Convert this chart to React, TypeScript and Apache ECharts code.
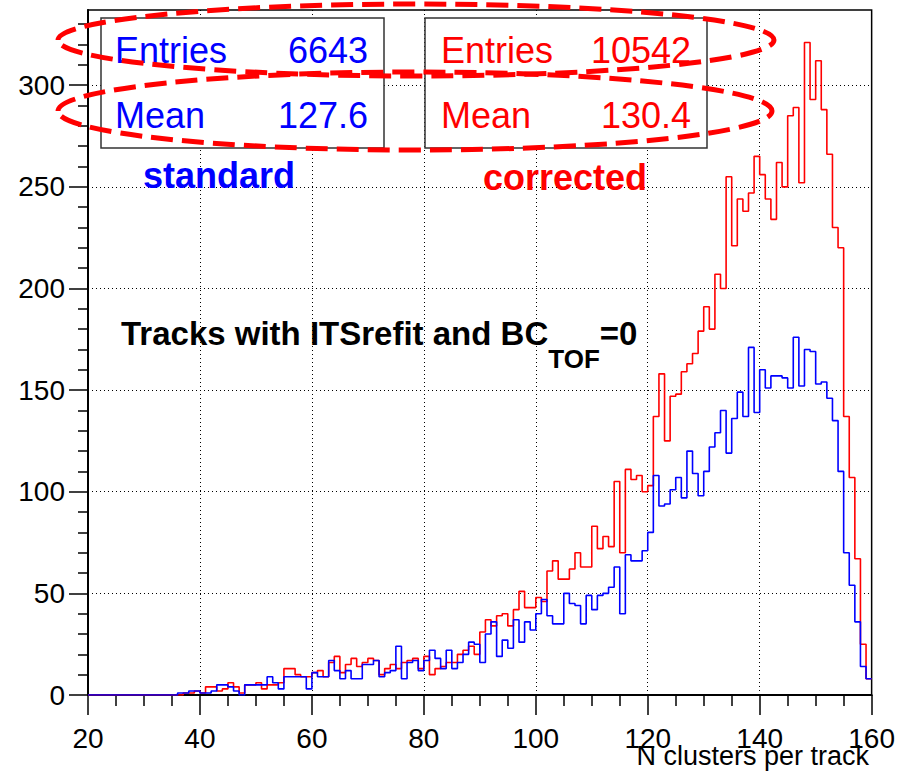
import React, { useEffect, useRef } from "react";
import * as echarts from "echarts";

// Histogram binning: 1 unit wide bins from 20 to 160
const binStart = 20;
const binWidth = 1;

// "standard" histogram (blue), bins 20..159
const standardCounts = [
  0, 0, 0, 0, 0, 0, 0, 0, 0, 0,
  0, 0, 0, 0, 0, 0, 1, 1, 2, 2,
  1, 1, 2, 5, 5, 4, 2, 0, 5, 5,
  5, 5, 9, 6, 3, 9, 9, 9, 9, 3,
  11, 9, 9, 17, 12, 8, 12, 8, 8, 15,
  15, 17, 9, 11, 12, 24, 8, 16, 17, 12,
  17, 22, 18, 13, 22, 13, 16, 20, 26, 25,
  16, 30, 36, 19, 27, 23, 37, 26, 36, 32,
  40, 47, 39, 35, 35, 50, 45, 44, 35, 49,
  42, 49, 50, 53, 63, 40, 69, 66, 66, 71,
  80, 108, 93, 94, 101, 107, 97, 120, 109, 98,
  110, 122, 129, 140, 119, 136, 149, 137, 171, 139,
  160, 151, 157, 157, 156, 151, 176, 152, 170, 169,
  153, 154, 146, 135, 110, 70, 54, 36, 14, 8,
];

// "corrected" histogram (red), bins 20..159
const correctedCounts = [
  0, 0, 0, 0, 0, 0, 0, 0, 0, 0,
  0, 0, 0, 0, 0, 0, 0, 1, 1, 2,
  1, 4, 4, 2, 3, 6, 4, 1, 5, 5,
  6, 3, 5, 5, 6, 13, 13, 10, 9, 9,
  11, 12, 9, 16, 19, 11, 15, 18, 14, 16,
  18, 17, 10, 13, 15, 13, 16, 17, 18, 13,
  19, 10, 13, 14, 16, 16, 20, 22, 24, 20,
  31, 37, 34, 39, 40, 34, 42, 51, 43, 43,
  48, 46, 61, 66, 57, 57, 62, 70, 63, 63,
  83, 72, 78, 73, 105, 70, 111, 106, 108, 100,
  103, 137, 158, 125, 147, 148, 159, 163, 168, 179,
  191, 180, 207, 200, 255, 221, 244, 238, 247, 265,
  256, 244, 234, 262, 250, 285, 289, 252, 321, 293,
  312, 288, 266, 230, 220, 137, 107, 67, 25, 8,
];

const yTicks = [0, 50, 100, 150, 200, 250, 300];
const xTicks = [20, 40, 60, 80, 100, 120, 140, 160];

const standardStats = { entries: "6643", mean: "127.6" };
const correctedStats = { entries: "10542", mean: "130.4" };

const FONT = "'Liberation Sans', Arial, Helvetica, sans-serif";
const BLUE = "#0000ff";
const RED = "#ff0000";

function toSteps(counts: number[]): number[][] {
  const pts: number[][] = counts.map((v, i) => [binStart + i * binWidth, v]);
  pts.push([binStart + counts.length * binWidth, counts[counts.length - 1]]);
  return pts;
}

export default function App() {
  const ref = useRef<HTMLDivElement>(null);

  useEffect(() => {
    if (!ref.current) return;
    const chart = echarts.init(ref.current, undefined, { renderer: "svg" });

    const statText = (x: number, y: number, text: string, align: string, color: string) => ({
      type: "text",
      x,
      y,
      z: 6,
      style: {
        text,
        fill: color,
        font: `36px ${FONT}`,
        align,
        verticalAlign: "middle",
      },
    });

    const option: any = {
      animation: false,
      backgroundColor: "#ffffff",
      grid: {
        left: 88,
        right: 26,
        top: 10,
        bottom: 79,
        show: true,
        borderColor: "#000",
        borderWidth: 1.5,
        backgroundColor: "transparent",
      },
      xAxis: {
        type: "value",
        min: xTicks[0],
        max: xTicks[xTicks.length - 1],
        interval: 20,
        axisLine: { show: true, onZero: false, lineStyle: { color: "#000", width: 2 } },
        axisTick: { show: true, length: 20, lineStyle: { color: "#000", width: 1.5 } },
        minorTick: { show: true, splitNumber: 4, length: 11, lineStyle: { color: "#000", width: 1.5 } },
        axisLabel: { margin: 29, fontSize: 28, color: "#000", fontFamily: FONT },
        splitLine: { show: true, lineStyle: { type: [1, 3], color: "#000", width: 1 } },
      },
      yAxis: {
        type: "value",
        min: 0,
        max: 337,
        interval: 50,
        axisLine: { show: true, onZero: false, lineStyle: { color: "#000", width: 2 } },
        axisTick: { show: true, length: 19, customValues: yTicks, lineStyle: { color: "#000", width: 1.5 } },
        minorTick: { show: true, splitNumber: 5, length: 10, lineStyle: { color: "#000", width: 1.5 } },
        axisLabel: {
          margin: 23,
          fontSize: 28,
          color: "#000",
          fontFamily: FONT,
          customValues: yTicks,
          formatter: (v: number) => (v % 50 === 0 ? String(v) : ""),
        },
        splitLine: { show: true, lineStyle: { type: [1, 3], color: "#000", width: 1 } },
      },
      series: [
        {
          name: "corrected",
          type: "line",
          step: "end",
          showSymbol: false,
          symbol: "none",
          data: toSteps(correctedCounts),
          lineStyle: { color: RED, width: 1.6 },
          itemStyle: { color: RED },
          z: 3,
        },
        {
          name: "standard",
          type: "line",
          step: "end",
          showSymbol: false,
          symbol: "none",
          data: toSteps(standardCounts),
          lineStyle: { color: BLUE, width: 1.6 },
          itemStyle: { color: BLUE },
          z: 4,
        },
      ],
      graphic: [
        {
          type: "rect",
          z: 5,
          shape: { x: 101, y: 18, width: 283, height: 130 },
          style: { fill: "#fff", stroke: "#333", lineWidth: 1.5 },
        },
        {
          type: "rect",
          z: 5,
          shape: { x: 425, y: 18, width: 282, height: 130 },
          style: { fill: "#fff", stroke: "#333", lineWidth: 1.5 },
        },
        statText(115, 50, "Entries", "left", BLUE),
        statText(368, 50, standardStats.entries, "right", BLUE),
        statText(115, 115, "Mean", "left", BLUE),
        statText(368, 115, standardStats.mean, "right", BLUE),
        statText(441, 50, "Entries", "left", RED),
        statText(691, 50, correctedStats.entries, "right", RED),
        statText(441, 115, "Mean", "left", RED),
        statText(691, 115, correctedStats.mean, "right", RED),
        {
          type: "text",
          x: 143,
          y: 175,
          z: 6,
          style: { text: "standard", fill: BLUE, font: `bold 36px ${FONT}`, align: "left", verticalAlign: "middle" },
        },
        {
          type: "text",
          x: 483,
          y: 177,
          z: 6,
          style: { text: "corrected", fill: RED, font: `bold 36px ${FONT}`, align: "left", verticalAlign: "middle" },
        },
        {
          type: "text",
          x: 121,
          y: 333,
          z: 6,
          style: {
            text: "{m|Tracks with ITSrefit and BC}{s|TOF}{m|=0}",
            align: "left",
            verticalAlign: "middle",
            rich: {
              m: { fontSize: 33, fontWeight: "bold", fontFamily: FONT, fill: "#000" },
              s: { fontSize: 26, fontWeight: "bold", fontFamily: FONT, fill: "#000", padding: [52, 0, 0, 0] },
            },
          },
        },
        {
          type: "text",
          x: 869,
          y: 756,
          z: 6,
          style: { text: "N clusters per track", fill: "#000", font: `27px ${FONT}`, align: "right", verticalAlign: "middle" },
        },
        {
          type: "ellipse",
          z: 8,
          shape: { cx: 416, cy: 40, rx: 358, ry: 36 },
          style: { fill: "none", stroke: RED, lineWidth: 5, lineDash: [22, 9] },
        },
        {
          type: "ellipse",
          z: 8,
          shape: { cx: 415, cy: 111, rx: 357, ry: 39 },
          style: { fill: "none", stroke: RED, lineWidth: 5, lineDash: [22, 9] },
        },
      ],
    };

    chart.setOption(option);
    return () => chart.dispose();
  }, []);

  return (
    <div
      ref={ref}
      style={{ position: "fixed", left: 0, top: 0, width: 898, height: 774, background: "#fff" }}
    />
  );
}
